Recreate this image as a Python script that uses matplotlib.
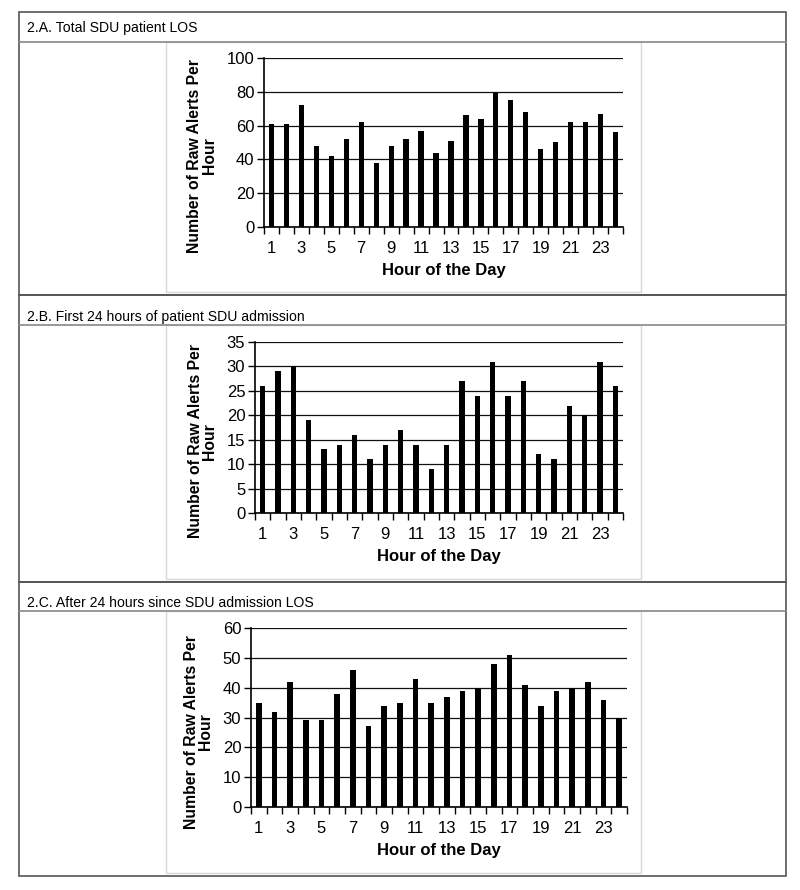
import matplotlib
matplotlib.use("Agg")
import matplotlib.pyplot as plt
from matplotlib.lines import Line2D
from matplotlib.patches import Rectangle

plt.rcParams['font.family'] = ['Liberation Sans', 'DejaVu Sans']

hours = list(range(1, 25))
tick_labels = [str(h) if h % 2 == 1 else '' for h in hours]

total_los = [61, 61, 72, 48, 42, 52, 62, 38, 48, 52, 57, 44,
             51, 66, 64, 79, 75, 68, 46, 50, 62, 62, 67, 56]
first_24h = [26, 29, 30, 19, 13, 14, 16, 11, 14, 17, 14, 9,
             14, 27, 24, 31, 24, 27, 12, 11, 22, 20, 31, 26]
after_24h = [35, 32, 42, 29, 29, 38, 46, 27, 34, 35, 43, 35,
             37, 39, 40, 48, 51, 41, 34, 39, 40, 42, 36, 30]

titles = ['2.A. Total SDU patient LOS',
          '2.B. First 24 hours of patient SDU admission',
          '2.C. After 24 hours since SDU admission LOS']

W, H = 800, 890
fig = plt.figure(figsize=(W / 100, H / 100), dpi=100)


def fx(px):
    return px / W


def fy(py):
    return 1 - py / H


# table frame (pixel coords)
left, right = 19, 786
rows = [(12, 42, 295), (295, 325, 582), (582, 611, 876)]
box_l, box_r = 166, 641
dark = '#555555'
light = '#d8d8d8'

for top, mid, bot in rows:
    fig.add_artist(Rectangle((fx(left), fy(bot)), fx(right) - fx(left), fy(top) - fy(bot),
                             transform=fig.transFigure, fill=False, ec=dark, lw=1.2))
    fig.add_artist(Line2D([fx(left), fx(right)], [fy(mid), fy(mid)],
                          transform=fig.transFigure, color='#888888', lw=1.2))
    fig.add_artist(Rectangle((fx(box_l), fy(bot - 3)), fx(box_r) - fx(box_l), fy(mid) - fy(bot - 3),
                             transform=fig.transFigure, fill=False, ec=light, lw=1))

# axes boxes: (x0, x1, y_top, y_bottom) in pixels
axes_px = [(264, 623, 58, 227), (255, 623, 342, 513), (251, 627, 628, 807)]
datasets = [total_los, first_24h, after_24h]
ymax = [100, 35, 60]
ystep = [20, 5, 10]
header_y = [28, 317, 603]

for i in range(3):
    x0, x1, yt, yb = axes_px[i]
    ax = fig.add_axes([fx(x0), fy(yb), fx(x1) - fx(x0), fy(yt) - fy(yb)])
    ax.bar(hours, datasets[i], width=0.35, color='black', zorder=3)
    ax.set_xlim(0.5, 24.5)
    ax.set_ylim(0, ymax[i])
    ax.set_yticks(range(0, ymax[i] + 1, ystep[i]))
    ax.yaxis.grid(True, color='#111111', lw=0.9)
    ax.set_axisbelow(True)
    for s in ['top', 'right']:
        ax.spines[s].set_visible(False)
    ax.spines['left'].set_linewidth(1.2)
    ax.spines['bottom'].set_linewidth(1.2)
    ax.set_xticks(hours)
    ax.set_xticklabels(tick_labels)
    ax.set_xticks([h + 0.5 for h in range(0, 25)], minor=True)
    ax.tick_params(axis='x', which='major', length=0, labelsize=12, pad=10)
    ax.tick_params(axis='x', which='minor', length=5, width=1)
    ax.tick_params(axis='y', length=5, width=1, labelsize=12, pad=2)
    ax.set_xlabel('Hour of the Day', fontsize=12, fontweight='bold', labelpad=5)
    ax.set_ylabel('Number of Raw Alerts Per\nHour', fontsize=11.3, fontweight='bold',
                  linespacing=0.95, labelpad=7)
    ax.yaxis.label.set_y(0.42)
    fig.text(fx(27), fy(header_y[i]), titles[i], fontsize=10.1, va='center', ha='left')

fig.savefig('out.png', dpi=100, facecolor='white')
